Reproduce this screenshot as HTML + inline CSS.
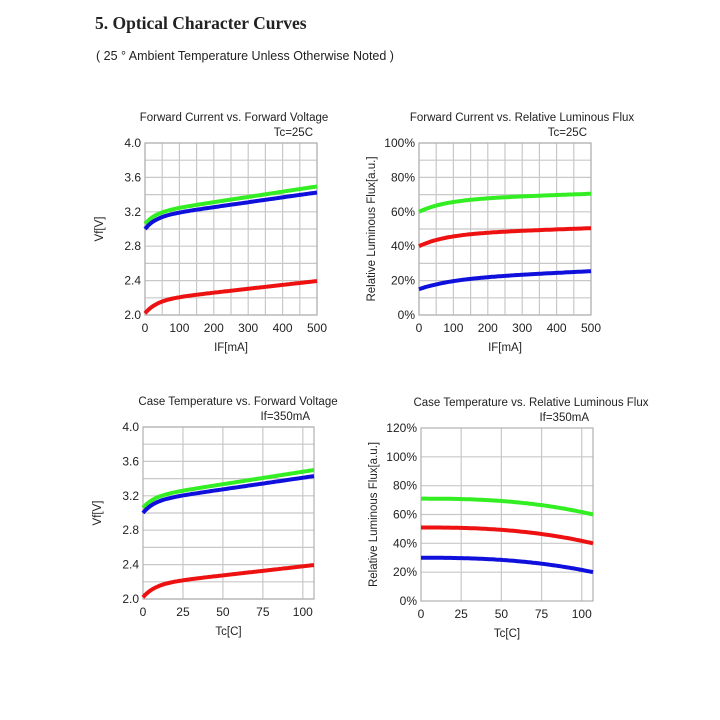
<!DOCTYPE html>
<html><head><meta charset="utf-8"><style>
body{margin:0;background:#fff;width:720px;height:720px;overflow:hidden}
svg{position:absolute;left:0;top:0}
text{font-family:"Liberation Sans",sans-serif;fill:#222}
</style></head><body>
<svg id="s" width="720" height="720" xmlns="http://www.w3.org/2000/svg">
<text x="95" y="29" style="font-family:'Liberation Serif',serif;font-weight:bold;font-size:17.5px">5. Optical Character Curves</text>
<text x="96" y="60" style="font-size:12.5px">( 25 ° Ambient Temperature Unless Otherwise Noted )</text>
</svg>
<script>
const s=document.getElementById('s');const NS='http://www.w3.org/2000/svg';
function el(t,a,txt){const e=document.createElementNS(NS,t);for(const k in a)e.setAttribute(k,a[k]);if(txt!==undefined)e.textContent=txt;s.appendChild(e);return e;}
function chart(o){
 const {x0,x1,y0,y1,xmin,xmax,ymin,ymax}=o;
 const X=v=>x0+(v-xmin)/(xmax-xmin)*(x1-x0), Y=v=>y1-(v-ymin)/(ymax-ymin)*(y1-y0);
 o.vgrid.forEach(v=>el('line',{x1:X(v),x2:X(v),y1:y0,y2:y1,stroke:'#c8c8c8','stroke-width':1.2}));
 o.hgrid.forEach(v=>el('line',{x1:x0,x2:x1,y1:Y(v),y2:Y(v),stroke:'#c8c8c8','stroke-width':1.2}));
 el('rect',{x:x0,y:y0,width:x1-x0,height:y1-y0,fill:'none',stroke:'#b0b0b0','stroke-width':1.2});
 o.xt.forEach(v=>el('text',{x:X(v),y:y1+17,'text-anchor':'middle','font-size':12},v));
 o.yt.forEach(v=>el('text',{x:x0-4,y:Y(v)+4,'text-anchor':'end','font-size':12},o.yf(v)));
 el('text',{x:(x0+x1)/2,y:y1+36,'text-anchor':'middle','font-size':11.5},o.xl);
 el('text',{x:0,y:0,'text-anchor':'middle','font-size':11.5,transform:`translate(${o.ylx},${(y0+y1)/2}) rotate(-90)`},o.yl);
 el('text',{x:o.tx,y:y0-22,'text-anchor':'middle','font-size':11.5},o.t1);
 el('text',{x:x1-4,y:y0-7,'text-anchor':'end','font-size':11.5},o.t2);
 o.series.forEach(([c,f])=>{let p=[];for(let i=0;i<=80;i++){const v=xmin+(o.xend-xmin)*i/80;p.push(X(v).toFixed(1)+','+Y(f(v)).toFixed(1));}
  el('polyline',{points:p.join(' '),fill:'none',stroke:c,'stroke-width':4,'stroke-linecap':'butt'});});
}
const sat=(a,b,k,c)=>x=>a+b*(1-Math.exp(-x/k))+c*x;
const r10=(a,b)=>{const r=[];for(let v=a;v<=b+1e-9;v+=(b-a)/10)r.push(+v.toFixed(3));return r;};
chart({x0:145,x1:317,y0:143,y1:315,xmin:0,xmax:500,ymin:2,ymax:4,xend:500,
 vgrid:r10(0,500),hgrid:r10(2,4),xt:[0,100,200,300,400,500],yt:[2,2.4,2.8,3.2,3.6,4],yf:v=>v.toFixed(1),
 xl:'IF[mA]',yl:'Vf[V]',ylx:103,tx:234,t1:'Forward Current vs. Forward Voltage',t2:'Tc=25C',
 series:[['#33ee22',sat(3.06,0.13,32,0.00061)],['#1010dd',sat(3.0,0.14,32,0.00057)],['#ee1111',sat(2.02,0.15,35,0.00045)]]});
chart({x0:419,x1:591,y0:143,y1:315,xmin:0,xmax:500,ymin:0,ymax:100,xend:500,
 vgrid:r10(0,500),hgrid:r10(0,100),xt:[0,100,200,300,400,500],yt:[0,20,40,60,80,100],yf:v=>v+'%',
 xl:'IF[mA]',yl:'Relative Luminous Flux[a.u.]',ylx:375,tx:522,t1:'Forward Current vs. Relative Luminous Flux',t2:'Tc=25C',
 series:[['#33ee22',sat(60,7,80,0.007)],['#ee1111',sat(40,7,80,0.007)],['#1010dd',sat(15,6,100,0.009)]]});
chart({x0:143,x1:314,y0:427,y1:599,xmin:0,xmax:107,ymin:2,ymax:4,xend:107,
 vgrid:[25,50,75,100],hgrid:r10(2,4),xt:[0,25,50,75,100],yt:[2,2.4,2.8,3.2,3.6,4],yf:v=>v.toFixed(1),
 xl:'Tc[C]',yl:'Vf[V]',ylx:101,tx:238,t1:'Case Temperature vs. Forward Voltage',t2:'If=350mA',
 series:[['#33ee22',sat(3.06,0.13,6.8,0.0029)],['#1010dd',sat(3.0,0.14,6.8,0.0027)],['#ee1111',sat(2.02,0.15,7.5,0.0021)]]});
const dr=(a,d)=>x=>a-d*Math.pow(x/107,2.5);
chart({x0:421,x1:593,y0:428,y1:601,xmin:0,xmax:107,ymin:0,ymax:120,xend:107,
 vgrid:[25,50,75,100],hgrid:[20,40,60,80,100],xt:[0,25,50,75,100],yt:[0,20,40,60,80,100,120],yf:v=>v+'%',
 xl:'Tc[C]',yl:'Relative Luminous Flux[a.u.]',ylx:377,tx:531,t1:'Case Temperature vs. Relative Luminous Flux',t2:'If=350mA',
 series:[['#33ee22',dr(71,11)],['#ee1111',dr(51,11)],['#1010dd',dr(30,10)]]});
</script>
</body></html>
